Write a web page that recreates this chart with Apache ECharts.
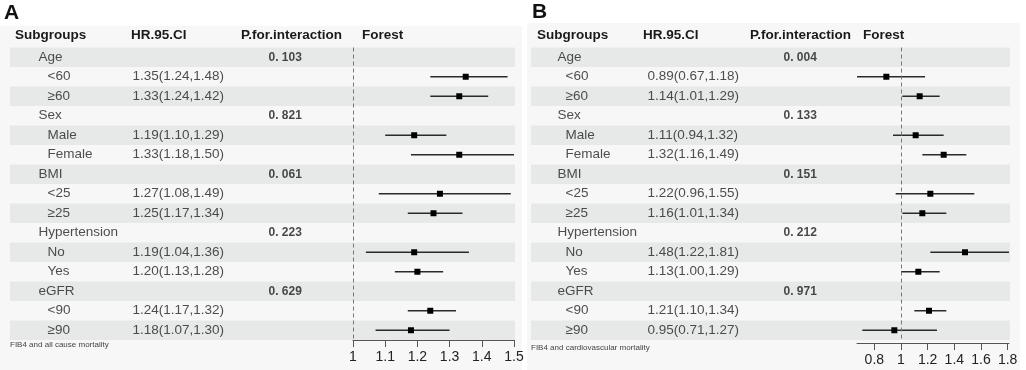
<!DOCTYPE html>
<html>
<head>
<meta charset="utf-8">
<script src="https://cdn.jsdelivr.net/npm/echarts@6/dist/echarts.min.js"></script>
<style>
  html, body { margin: 0; padding: 0; background: #fff; }
  #chart { width: 1026px; height: 370px; }
</style>
</head>
<body>
<div id="chart"></div>
<script>
// rows shared by both panels
var rows = ['Age', '<60', '≥60', 'Sex', 'Male', 'Female', 'BMI', '<25', '≥25',
  'Hypertension', 'No', 'Yes', 'eGFR', '<90', '≥90'];
var headers = ['Subgroups', 'HR.95.CI', 'P.for.interaction', 'Forest'];

// panel A - all cause mortality
var hrA = [null, 1.35, 1.33, null, 1.19, 1.33, null, 1.27, 1.25, null, 1.19, 1.20, null, 1.24, 1.18];
var lowA = [null, 1.24, 1.24, null, 1.10, 1.18, null, 1.08, 1.17, null, 1.04, 1.13, null, 1.17, 1.07];
var highA = [null, 1.48, 1.42, null, 1.29, 1.50, null, 1.49, 1.34, null, 1.36, 1.28, null, 1.32, 1.30];
var pA = ['0. 103', null, null, '0. 821', null, null, '0. 061', null, null, '0. 223', null, null, '0. 629', null, null];
var ticksA = [1, 1.1, 1.2, 1.3, 1.4, 1.5];

// panel B - cardiovascular mortality
var hrB = [null, 0.89, 1.14, null, 1.11, 1.32, null, 1.22, 1.16, null, 1.48, 1.13, null, 1.21, 0.95];
var lowB = [null, 0.67, 1.01, null, 0.94, 1.16, null, 0.96, 1.01, null, 1.22, 1.00, null, 1.10, 0.71];
var highB = [null, 1.18, 1.29, null, 1.32, 1.49, null, 1.55, 1.34, null, 1.81, 1.29, null, 1.34, 1.27];
var pB = ['0. 004', null, null, '0. 133', null, null, '0. 151', null, null, '0. 212', null, null, '0. 971', null, null];
var ticksB = [0.8, 1, 1.2, 1.4, 1.6, 1.8];

var FONT = '"Liberation Sans", Arial, sans-serif';
var TOP = 47.5, ROWS_H = 292.5;

var chart = echarts.init(document.getElementById('chart'));

function minOf(arr) { return Math.min.apply(null, arr.filter(function (v) { return v != null })) }
function maxOf(arr) { return Math.max.apply(null, arr.filter(function (v) { return v != null })) }

var grids = [], xAxes = [], yAxes = [], series = [];

function addPanel(cfg) {
  var gTable = grids.length
  grids.push({left: cfg.tableLeft, top: TOP, width: cfg.tableWidth, height: ROWS_H})
  grids.push({left: cfg.forestLeft, top: TOP, width: cfg.forestWidth, height: ROWS_H})
  var gForest = gTable + 1
  var axTable = xAxes.length, axForest = xAxes.length + 1

  xAxes.push({gridIndex: gTable, type: 'value', min: 0, max: cfg.tableWidth, show: false})
  yAxes.push({
    gridIndex: gTable, type: 'category', data: rows, inverse: true,
    axisLine: {show: false}, axisTick: {show: false}, axisLabel: {show: false},
    splitLine: {show: false},
    splitArea: {show: true, areaStyle: {color: ['#e7e9e9', 'rgba(0,0,0,0)']}}
  })

  xAxes.push({
    gridIndex: gForest, type: 'value', min: cfg.min, max: cfg.max, offset: cfg.axisOffset,
    axisLine: {show: true, lineStyle: {color: '#555', width: 1}},
    axisTick: {show: true, length: 7, lineStyle: {color: '#555'}, customValues: cfg.ticks},
    axisLabel: {color: '#222', fontSize: 14, fontFamily: FONT, margin: 10, customValues: cfg.ticks},
    splitLine: {show: false}
  })
  yAxes.push({
    gridIndex: gForest, type: 'category', data: rows, inverse: true,
    axisLine: {show: false}, axisTick: {show: false}, axisLabel: {show: false}, splitLine: {show: false}
  })

  var subData = [], hrData = [], pData = [], ciData = []
  rows.forEach(function (r, i) {
    var head = cfg.hr[i] == null
    subData.push({value: [head ? cfg.cols.head : cfg.cols.sub, i], name: r})
    if (!head) {
      hrData.push({value: [cfg.cols.hr, i], name: cfg.hr[i].toFixed(2) + '(' + cfg.lo[i].toFixed(2) + ',' + cfg.hi[i].toFixed(2) + ')'})
      ciData.push([cfg.hr[i], i, cfg.lo[i], cfg.hi[i]])
    }
    if (cfg.p[i]) pData.push({value: [cfg.cols.p, i], name: cfg.p[i]})
  })

  function textCol(data, style) {
    return {
      type: 'scatter', xAxisIndex: axTable, yAxisIndex: axTable,
      data: data, symbolSize: 1, itemStyle: {color: 'rgba(0,0,0,0)'}, silent: true,
      label: Object.assign({
        show: true, position: 'right', distance: 0,
        formatter: function (p) { return p.name },
        color: '#222', fontFamily: FONT, fontSize: 13.5
      }, style)
    }
  }
  series.push(textCol(subData, {}))
  series.push(textCol(hrData, {}))
  series.push(textCol(pData, {fontSize: 12, fontWeight: 'bold', color: '#1a1a1a'}))

  // reference line at HR = 1
  series.push({
    type: 'line', xAxisIndex: axForest, yAxisIndex: axForest, data: [], silent: true,
    markLine: {
      silent: true, symbol: 'none', label: {show: false},
      lineStyle: {color: '#777', type: [4, 3], width: 1},
      data: [{xAxis: 1}]
    }
  })

  // confidence intervals and point estimates
  series.push({
    type: 'custom', xAxisIndex: axForest, yAxisIndex: axForest,
    data: ciData, encode: {x: 0, y: 1}, silent: true, clip: false,
    renderItem: function (params, api) {
      var y = api.value(1)
      var a = api.coord([api.value(2), y])
      var b = api.coord([api.value(3), y])
      var c = api.coord([api.value(0), y])
      return {
        type: 'group',
        children: [
          {type: 'line', shape: {x1: a[0], y1: a[1], x2: b[0], y2: b[1]}, style: {stroke: '#2a2a2a', lineWidth: 1.4}},
          {type: 'rect', shape: {x: c[0] - 3, y: c[1] - 3, width: 6, height: 6}, style: {fill: '#000'}}
        ]
      }
    }
  })
}

addPanel({
  tableLeft: 10, tableWidth: 505, forestLeft: 353, forestWidth: 161,
  min: 1, max: maxOf(highA), ticks: ticksA, axisOffset: 0,
  hr: hrA, lo: lowA, hi: highA, p: pA,
  cols: {head: 28, sub: 37, hr: 122, p: 258}
})
addPanel({
  tableLeft: 531, tableWidth: 479, forestLeft: 857, forestWidth: 152,
  min: minOf(lowB), max: maxOf(highB), ticks: ticksB, axisOffset: 3,
  hr: hrB, lo: lowB, hi: highB, p: pB,
  cols: {head: 26, sub: 34, hr: 116, p: 252}
})

function headerTexts(xs, y) {
  return headers.map(function (h, i) {
    return {type: 'text', style: {text: h, x: xs[i], y: y, font: 'bold 13.5px ' + FONT, fill: '#1a1a1a', verticalAlign: 'middle'}}
  })
}

var graphic = [
  {type: 'rect', z: -100, shape: {x: 0, y: 26, width: 522, height: 344}, style: {fill: '#f7f7f7'}},
  {type: 'rect', z: -100, shape: {x: 527, y: 23, width: 493, height: 347}, style: {fill: '#f7f7f7'}},
  {type: 'text', style: {text: 'A', x: 4, y: 3, font: 'bold 21px ' + FONT, fill: '#111'}},
  {type: 'text', style: {text: 'B', x: 532, y: 2, font: 'bold 21px ' + FONT, fill: '#111'}},
  {type: 'text', style: {text: 'FIB4 and all cause mortality', x: 10, y: 345, font: '8px ' + FONT, fill: '#444', verticalAlign: 'middle'}},
  {type: 'text', style: {text: 'FIB4 and cardiovascular mortality', x: 531, y: 348, font: '8px ' + FONT, fill: '#444', verticalAlign: 'middle'}}
].concat(headerTexts([15, 131, 241, 362], 35), headerTexts([537, 643, 750, 863], 35))

chart.setOption({
  animation: false,
  grid: grids,
  xAxis: xAxes,
  yAxis: yAxes,
  series: series,
  graphic: graphic
})
</script>
</body>
</html>
